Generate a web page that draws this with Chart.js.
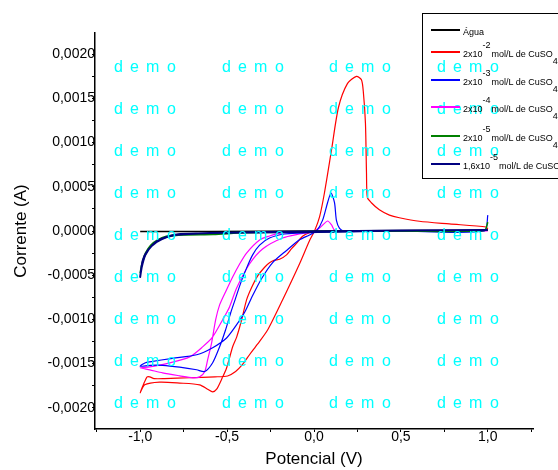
<!DOCTYPE html>
<html>
<head>
<meta charset="utf-8">
<script src="https://cdn.jsdelivr.net/npm/chart.js@4.4.1/dist/chart.umd.min.js"></script>
<style>
  html, body { margin: 0; padding: 0; background: #fff; overflow: hidden; width: 558px; height: 470px; }
  #wrap { position: relative; width: 558px; height: 470px; }
  #legend { position: absolute; left: 422px; top: 13px; width: 170px; height: 166px; border: 1px solid #000;
            box-sizing: border-box; font-family: "Liberation Sans", Arial, sans-serif; font-size: 9px; color: #000; }
  .row { position: absolute; left: 0; height: 0; width: 100%; }
  .swatch { position: absolute; left: 8px; width: 29px; top: -1px; height: 2px; }
  .txt { position: absolute; left: 40px; top: -3px; white-space: nowrap; line-height: 10px; }
  .sup { position: relative; top: -9px; margin-right: 1px; }
  .sub { position: relative; top: 7px; }
</style>
</head>
<body>
<div id="wrap">
  <canvas id="cv" width="558" height="470"></canvas>
  <div id="legend"></div>
</div>
<script>
// tick values and labels
const xTickValues = [-1.25, -1, -0.75, -0.5, -0.25, 0, 0.25, 0.5, 0.75, 1, 1.25];
const xMajor = [-1, -0.5, 0, 0.5, 1];
const xTickLabels = ['-1,0', '-0,5', '0,0', '0,5', '1,0'];
const yTickValues = [-0.002, -0.00175, -0.0015, -0.00125, -0.001, -0.00075, -0.0005, -0.00025, 0,
                     0.00025, 0.0005, 0.00075, 0.001, 0.00125, 0.0015, 0.00175, 0.002];
const yMajor = [-0.002, -0.0015, -0.001, -0.0005, 0, 0.0005, 0.001, 0.0015, 0.002];
const yTickLabels = ['-0,0020', '-0,0015', '-0,0010', '-0,0005', '0,0000', '0,0005', '0,0010', '0,0015', '0,0020'];

// legend names
const legendBase = ['Água', '2x10', '2x10', '2x10', '2x10', '1,6x10'];
const legendExp = ['', '-2', '-3', '-4', '-5', '-5'];

// Água
const aguaV = [-1.0, -0.6, 0.0, 0.6, 1.0];
const aguaI = [-0.000005, -0.000005, 0.0, 0.000005, 0.000008];

// 2x10^-2 mol/L
const c2V = [1.0, 0.89, 0.49, 0.15, 0.02, -0.026, -0.066, -0.101, -0.129, -0.158, -0.198, -0.227, -0.256, -0.284,
  -0.325, -0.359, -0.388, -0.417, -0.445, -0.468, -0.503, -0.532, -0.560, -0.583, -0.612, -0.658, -0.773, -0.888,
  -0.974, -1.0, -0.98, -0.96, -0.945, -0.92, -0.86, -0.715, -0.57, -0.497, -0.451, -0.411, -0.371, -0.325, -0.267,
  -0.181, -0.083, -0.026, 0.003, 0.032, 0.060, 0.101, 0.141, 0.193, 0.244, 0.273, 0.284, 0.296, 0.302, 0.307,
  0.330, 0.376, 0.434, 0.491, 0.606, 0.779, 0.991, 1.0];
const c2I = [0.00002, 0.0, 0.0, 0.0, -0.00001, -0.00002, -0.00006, -0.00014, -0.0002, -0.00027, -0.00032, -0.00033,
  -0.00036, -0.00041, -0.00051, -0.00064, -0.00078, -0.00101, -0.0012, -0.00131, -0.00155, -0.00168, -0.00179,
  -0.00182, -0.00179, -0.00174, -0.00172, -0.00171, -0.00174, -0.00183, -0.00173, -0.00165, -0.00165, -0.00167,
  -0.00167, -0.00166, -0.00165, -0.00164, -0.00159, -0.00151, -0.0014, -0.00128, -0.00112, -0.00078, -0.00037,
  -0.00011, 0.0, 0.00016, 0.00043, 0.00092, 0.0014, 0.00167, 0.00175, 0.00171, 0.00157, 0.00122, 0.00066,
  0.00038, 0.00032, 0.00024, 0.00018, 0.00015, 0.00011, 0.00008, 0.000045, 0.00002];

// 2x10^-3 mol/L
const c3V = [1.0, 0.98, 0.5, 0.1, -0.083, -0.17, -0.256, -0.313, -0.353, -0.388, -0.422, -0.451, -0.48, -0.509,
  -0.543, -0.583, -0.629, -0.675, -0.773, -0.871, -0.945, -1.0, -0.97, -0.945, -0.813, -0.675, -0.583, -0.503,
  -0.445, -0.399, -0.353, -0.302, -0.239, -0.158, -0.083, -0.026, 0.014, 0.049, 0.078, 0.098, 0.118, 0.129,
  0.147, 0.175, 0.5, 0.98, 1.0];
const c3I = [0.00018, 0.0, 0.0, -0.00001, -0.000023, -0.000034, -0.00008, -0.00016, -0.00027, -0.00042, -0.00059,
  -0.00076, -0.00093, -0.00112, -0.00131, -0.00149, -0.00159, -0.00157, -0.00154, -0.00152, -0.00152, -0.00153,
  -0.00149, -0.00148, -0.00144, -0.0014, -0.00132, -0.00121, -0.00106, -0.00092, -0.00073, -0.00054, -0.00036,
  -0.00022, -0.0001, -0.000045, 0.0, 0.00012, 0.00032, 0.00043, 0.00032, 0.00012, 0.00003, 0.0, 0.0, 0.0, 0.00018];

// 2x10^-4 mol/L
const c4V = [1.0, 0.5, 0.1, -0.083, -0.198, -0.256, -0.313, -0.388, -0.428, -0.468, -0.509, -0.543, -0.566, -0.589,
  -0.612, -0.629, -0.658, -0.698, -0.773, -0.871, -0.945, -1.0, -0.945, -0.83, -0.715, -0.641, -0.583, -0.526,
  -0.486, -0.445, -0.371, -0.296, -0.181, -0.083, -0.014, 0.032, 0.078, 0.101, 0.118, 0.175, 0.5, 1.0];
const c4I = [0.0, 0.0, -0.000005, -0.000011, -0.000023, -0.000056, -0.000102, -0.000249, -0.000373, -0.00052,
  -0.000689, -0.000836, -0.001006, -0.001266, -0.001458, -0.001593, -0.00165, -0.001661, -0.001638, -0.001605,
  -0.001571, -0.001548, -0.001537, -0.001492, -0.001424, -0.001311, -0.001198, -0.001006, -0.000859, -0.000644,
  -0.000373, -0.000203, -0.000079, -0.000034, -0.000011, 0.000034, 0.000113, 0.000068, 0.000011, 0.0, 0.0, 0.0];

// 2x10^-5 mol/L
const c5V = [1.0, 0.98, 0.5, 0.0, -0.4, -0.58, -0.75, -0.85, -0.92, -0.96, -0.985, -1.0, -0.99, -0.97, -0.94, -0.9,
  -0.85, -0.78, -0.6, -0.4, 0.0, 0.5, 0.98, 1.0];
const c5I = [0.0001, 0.000005, 0.0, -0.000008, -0.00002, -0.00004, -0.000045, -0.00007, -0.00013, -0.00023, -0.00034,
  -0.00047, -0.00037, -0.00025, -0.00016, -0.0001, -0.00006, -0.00004, -0.00003, -0.000015, -0.000005, 0.0,
  0.000005, 0.0001];

// 1,6x10^-5 mol/L
const c16V = [1.0, 0.5, 0.0, -0.4, -0.6, -0.77, -0.85, -0.905, -0.955, -0.985, -1.0, -0.99, -0.97, -0.93, -0.88,
  -0.8, -0.6, -0.3, 0.0, 0.5, 1.0];
const c16I = [0.00001, 0.000005, -0.00001, -0.000018, -0.000023, -0.000034, -0.00007, -0.000125, -0.000215, -0.00033,
  -0.00052, -0.0004, -0.00027, -0.00016, -0.00009, -0.000045, -0.000022, -0.000012, -0.000005, 0.000005, 0.00001];

function pts(v, i) {
    return v.map((x, k) => ({ x: x, y: i[k] }));
}

const FONT = '"Liberation Sans", Arial, sans-serif';
Chart.defaults.font.family = FONT;
Chart.defaults.color = '#000';

// "d e m o" watermark from the original software
const demoCols = [114, 222, 329, 437];
const demoRows = [72, 114, 156, 198, 240, 282, 324, 366, 408];
const demoOffsets = [0, 16, 32, 53];
const demoPlugin = {
    id: 'demo',
    afterDraw(chart) {
        const ctx = chart.ctx;
        ctx.save();
        ctx.fillStyle = '#00ffff';
        ctx.font = '16px ' + FONT;
        ctx.textBaseline = 'alphabetic';
        for (const y of demoRows) {
            for (const x of demoCols) {
                'demo'.split('').forEach((ch, k) => ctx.fillText(ch, x + demoOffsets[k], y));
            }
        }
        ctx.restore();
    }
};

const series = [
    { data: pts(aguaV, aguaI), color: '#000000', width: 1.5, order: 2 },
    { data: pts(c2V, c2I), color: '#ff0000', width: 1.2, order: 5 },
    { data: pts(c3V, c3I), color: '#0000ff', width: 1.2, order: 3 },
    { data: pts(c4V, c4I), color: '#ff00ff', width: 1.2, order: 4 },
    { data: pts(c5V, c5I), color: '#008000', width: 1.5, order: 1 },
    { data: pts(c16V, c16I), color: '#000080', width: 2, order: 0 }
];

var chart = new Chart(document.getElementById('cv').getContext('2d'), {
    type: 'scatter',
    data: {
        datasets: series.map((s, k) => ({
            label: legendBase[k] + legendExp[k],
            data: s.data,
            showLine: true,
            borderColor: s.color,
            backgroundColor: s.color,
            borderWidth: s.width,
            pointRadius: 0,
            tension: 0.25,
            order: s.order
        }))
    },
    options: {
        responsive: false,
        animation: false,
        layout: { padding: { top: 33, right: 25, left: 0, bottom: 0 } },
        plugins: { legend: { display: false }, tooltip: { enabled: false } },
        scales: {
            x: {
                type: 'linear',
                min: -1.26,
                max: 1.26,
                afterBuildTicks: (scale) => { scale.ticks = xTickValues.map(v => ({ value: v })); },
                afterFit: (scale) => { scale.height = 41; },
                border: { display: true, color: '#000', width: 1.5 },
                grid: { drawOnChartArea: false, drawTicks: true, tickLength: 3, color: '#000' },
                ticks: {
                    autoSkip: false, maxRotation: 0, padding: -3,
                    font: { size: 14 }, color: '#000',
                    callback: (value) => {
                        const k = xMajor.findIndex(m => Math.abs(m - value) < 1e-9);
                        return k >= 0 ? xTickLabels[k] : '';
                    }
                },
                title: { display: true, text: 'Potencial (V)', font: { size: 17 }, color: '#000',
                         padding: { top: 0, bottom: 0 } }
            },
            y: {
                type: 'linear',
                min: -0.00224,
                max: 0.00224,
                afterBuildTicks: (scale) => { scale.ticks = yTickValues.map(v => ({ value: v })); },
                afterFit: (scale) => { scale.width = 95; },
                border: { display: true, color: '#000', width: 1.5 },
                grid: { drawOnChartArea: false, drawTicks: true, tickLength: 3, color: '#000' },
                ticks: {
                    autoSkip: false, padding: -3,
                    font: { size: 14 }, color: '#000',
                    callback: (value) => {
                        const k = yMajor.findIndex(m => Math.abs(m - value) < 1e-12);
                        return k >= 0 ? yTickLabels[k] : '';
                    }
                },
                title: { display: true, text: 'Corrente (A)', font: { size: 17 }, color: '#000',
                         padding: { top: 11, bottom: 0 } }
            }
        }
    },
    plugins: [demoPlugin]
});

// legend with superscripts / subscripts
const legendRows = [16, 38, 66, 93, 122, 150];
const legendEl = document.getElementById('legend');
series.forEach((s, k) => {
    const row = document.createElement('div');
    row.className = 'row';
    row.style.top = legendRows[k] + 'px';
    const sw = document.createElement('div');
    sw.className = 'swatch';
    sw.style.backgroundColor = s.color;
    row.appendChild(sw);
    const txt = document.createElement('div');
    txt.className = 'txt';
    if (legendExp[k]) {
        txt.innerHTML = '<span>' + legendBase[k] + '</span><span class="sup">' + legendExp[k] +
            '</span><span>mol/L de CuSO</span><span class="sub">4</span>';
    } else {
        txt.textContent = legendBase[k];
    }
    row.appendChild(txt);
    legendEl.appendChild(row);
});
</script>
</body>
</html>
